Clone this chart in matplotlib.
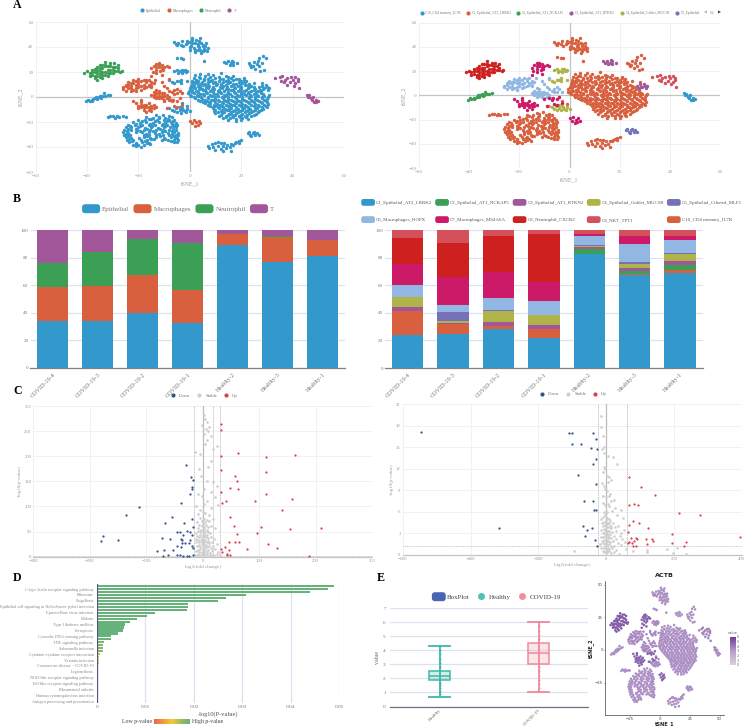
import numpy as np
import matplotlib
matplotlib.use("Agg")
import matplotlib.pyplot as plt
from matplotlib.lines import Line2D
from matplotlib.patches import Patch, FancyBboxPatch
from matplotlib.legend_handler import HandlerPatch
from matplotlib.colors import LinearSegmentedColormap, LogNorm, Normalize, to_rgba
from matplotlib.cm import ScalarMappable

plt.rcParams['font.family'] = 'Liberation Serif'
W, H = 753, 726

# ------------------ tSNE embedding (x, y pairs) ------------------
c1_main = [2,17.3, 6,16.6, 9,17.5, 14,17, 17,16.5,
 1.5,15, 4,15.6, 7,14.7, 10,15.3, 13,14.8, 16,15.4, 19,14.6,
 1,13, 3.2,12.6, 5.5,13.4, 8,12.8, 11.4,13.2, 14,12.6, 17,13.3, 20,12.8, 22,13.2,
 .8,11, 2.7,11.4, 6,10.7, 9,11.2, 12,10.8, 15,11.3, 18,10.7, 20.5,11.2, 23,10.8,
 .5,9, 3.3,8.6, 5,9.4, 7.6,8.8, 10.3,9.3, 13,8.7, 16,9.2, 18.8,8.7, 21.5,9.3, 24,8.8,
 0,7, 2,7.4, 4.7,6.7, 7,7.2, 9.5,6.8, 12.5,7.3, 15,6.7, 17.5,7.2, 20,6.8, 22.8,7.3, 25.5,6.8,
 -.5,5, 2.5,4.7, 5,5.3, 8,4.8, 10.8,5.2, 13.2,4.7, 16.2,5.3, 18.7,4.8, 21.2,5.2, 24,4.7, 26.5,5.1,
 -.7,3, 1.5,3.3, 4,2.7, 6.5,3.2, 9.5,2.8, 12,3.3, 14.5,2.7, 17.5,3.2, 20,2.8, 22.5,3.2, 25,2.8, 27.8,3.1,
 .5,1, 3,.7, 5.5,1.3, 8.5,.8, 11,1.2, 13.8,.7, 16.3,1.2, 19,.8, 21.8,1.3, 24,.7, 26.7,1.1, 29,.8,
 2,-1, 4.6,-1.3, 7,-.7, 10,-1.2, 12.8,-.8, 15,-1.3, 18,-.8, 20.3,-1.2, 23,-.7, 25.5,-1.3, 28,-.9, 30,-1.2,
 4,-3, 6.5,-3.3, 9,-2.7, 11.5,-3.2, 14,-2.8, 16.7,-3.3, 19,-2.8, 21.7,-3.2, 24.3,-2.8, 26.8,-3.2, 29.5,-2.9,
 6,-5, 8,-4.7, 10.5,-5.3, 13,-4.8, 15.5,-5.2, 18,-4.7, 20.5,-5.3, 23,-4.8, 25.5,-5.2, 28,-4.7, 30.5,-5.2,
 8,-7, 10,-7.3, 12.5,-6.8, 15,-7.2, 17.3,-6.7, 19.8,-7.3, 22,-6.8, 24.8,-7.2, 27,-6.8, 29.5,-7.2,
 9,-9, 11.5,-8.7, 13.7,-9.3, 16.2,-8.8, 18.7,-9.2, 21,-8.7, 23.5,-9.3, 26,-8.8, 28.6,-9.2,
 9.5,-11, 12,-11.3, 14.5,-10.7, 17,-11.2, 19.5,-10.8, 22,-11.3, 24.5,-10.8, 27,-11.2,
 10,-13, 12.5,-12.7, 15.3,-13.3, 18,-12.8, 20.5,-13.2, 23,-12.7, 25.6,-13.2,
 11.5,-15, 14,-15.3, 16.5,-14.7, 19,-15.2, 21.5,-14.8, 24,-15.2,
 13,-17, 15.5,-16.7, 18,-17.3, 20.5,-16.8, 22.5,-17.2, 15,-18.5, 18,-18.8, 20,-18.4,
 4,18.2, 21,15, 25,11.5, 31,1.5, 12,19, 28,11, 7,18.5, -3,-5, -1,-7,
 3.5,16, 8,16.2, 11.5,16, 15,16.2, 2.5,14, 5.5,14.3, 8.7,14, 11.8,14.2, 14.7,14, 18,14.3, 21,14,
 2,12, 4.6,12, 7.2,12.2, 10,12, 13,12.2, 15.7,12, 19,12.2, 21.5,12, 1.8,10, 4,10.2, 7,10, 10.7,10.2, 14,10, 17,10.2, 19.7,10, 22.5,10,
 1.3,8, 4,8, 6.2,8.2, 9,8, 11.7,8.2, 14.5,8, 17.2,8.2, 20,8, 23,8.1, 25,8, 1,6, 3.5,6.1, 6,6, 8.7,6.1, 11.3,6, 14,6.1, 17,6, 19.5,6.1, 22,6, 24.8,6,
 .7,4, 3.2,4, 6.2,4.1, 9,4, 11.8,4.1, 14.7,4, 17.2,4.1, 20,4, 23,4.1, 25.7,4, 27.8,4.6, .2,2, 2.7,2, 5.2,2.1, 8,2, 10.5,2.1, 13.2,2, 15.7,2.1, 18.4,2, 21,2.1, 23.5,2, 26,2, 28.5,2.1,
 1.6,0, 4.2,.1, 7,0, 9.7,.1, 12.4,0, 15,.1, 17.7,0, 20.4,.1, 23,0, 25.5,.1, 28,0, 30.3,.1,
 3.2,-2, 5.8,-2.1, 8.3,-2, 10.9,-2.1, 13.5,-2, 16,-2.1, 18.5,-2, 21,-2.1, 23.7,-2, 26.3,-2.1, 29,-2,
 5,-4, 7.5,-4.1, 10,-4, 12.5,-4.1, 15,-4, 17.7,-4.1, 20,-4, 22.6,-4.1, 25,-4, 27.7,-4.1, 30,-4,
 7,-6, 9.3,-6, 11.8,-6.1, 14.2,-6, 16.6,-6.1, 19,-6, 21.4,-6.1, 24,-6, 26.4,-6, 29,-6.1,
 9,-8, 11,-8, 13,-8.1, 15.3,-8, 17.8,-8.1, 20.3,-8, 22.7,-8, 25.4,-8, 28,-8.1, 30,-8,
 10,-10, 12.7,-10, 15.1,-10.1, 17.7,-10, 20.2,-10, 22.8,-10, 25.2,-10, 27.7,-10,
 10.8,-12, 13.4,-12, 16.2,-12, 18.8,-12, 21.3,-12, 24,-12, 26.5,-12, 12.3,-14, 15,-14, 17.6,-14, 20,-14, 22.4,-14, 25,-14,
 14.2,-16, 17,-16, 19.6,-16, 22,-16]
c1_low = [-13,-14.5, -10.5,-14, -8,-15,
 -17,-16, -14.5,-16.5, -12,-15.8, -9.5,-16.6, -7,-16.2,
 -20,-18, -17.5,-18.4, -15,-17.9, -12.7,-18.2, -10,-18.3, -8,-18, -6,-18.5,
 -22,-20, -19.5,-20.5, -17,-20, -14.5,-20.4, -12,-20, -9.7,-20.5, -7.5,-20, -5.5,-20.7,
 -24,-22, -21.3,-22.3, -18.5,-22, -16,-22.5, -13.5,-22, -11,-22.4, -8.7,-22, -6.3,-22.6, -5,-22,
 -25,-24, -22.7,-24.3, -20,-24, -17.5,-24.5, -15,-24, -12.5,-24.4, -10,-24, -7.6,-24.3, -5.5,-24,
 -25.5,-26, -23,-26.4, -20.5,-26, -18,-26.3, -15.5,-26, -13,-26.6, -10.5,-26, -8,-26.4, -5.3,-26,
 -26,-28, -24,-28.4, -21,-27.9, -18.5,-28.3, -16,-28, -13.5,-28.5, -11,-28, -8.5,-28.4, -6,-28, -4.7,-28.6,
 -25.5,-30, -23.4,-30.4, -18,-30, -15.7,-30.5, -13,-30, -10.5,-30.4, -8,-30, -5.5,-30.6, -4.4,-30,
 -25,-32, -23,-32.4, -18,-32, -15.5,-32.4, -13,-32, -10,-32.5, -7.5,-32, -5,-32.4,
 -24.5,-34, -22,-34.3, -19,-34, -16.8,-34.4, -14,-33.8, -11,-34, -8.5,-34.2, -6,-34, -4.5,-34.5,
 -23.5,-36, -21,-36.4, -18.5,-36, -16,-36.4, -6,-35.8, -4.8,-36,
 -22,-38, -20,-38.5, -17.8,-38, -15.5,-37.8, -21,-39.5, -19,-39.6,
 -12,-17, -16,-17.4, -8.5,-17.4, -18.7,-19.2, -13.5,-19.3, -8.7,-19.2, -6.5,-19.4, -21,-21.2, -15.5,-21.2, -10.5,-21.3, -6.8,-21.2,
 -23.3,-23.2, -19.5,-23.1, -14.7,-23.2, -9.7,-23.2, -6.4,-23.3, -24,-25.2, -21,-25.2, -16.5,-25.2, -11.5,-25.2, -6.5,-25.2,
 -24.6,-27.2, -19.5,-27.1, -14.5,-27.2, -9.8,-27.2, -6.8,-27.2, -24.7,-29.2, -17,-29.2, -12,-29.2, -7,-29.2,
 -24,-31.2, -16.7,-31.3, -11.7,-31.2, -6.2,-31.2, -23.5,-33.2, -19.6,-33, -15,-33.2, -9.5,-33.2, -5.8,-33,
 -22.5,-35.2, -17.5,-35.2, -7.5,-35, -20.8,-37.3, -16.8,-37.1]
c1_top = [-6,44, -4.5,43, -3,44.5, -1.5,42.5, 0,44, 1,47.5, 2.5,46, .5,41, 2,43.5, 3.5,45, 4.5,43, 6,41,
 7,39, 5.5,38.5, 3.5,40, 1.5,39.5, 3,37.5, 5,36.5, 2,36, 4.5,35, -2.5,41, -4.8,41.5, 0,38, 6.8,37,
 -5.5,42.3, 1,45.5, 3.3,42.2, 5,40.5, 6.2,43, -5,31.5, -3.5,31, -2.5,30.5, 5.5,28.5,
 -3.5,42, -1,45, 1,43, 3,41, 5,42, 2,38, 4,38, 0,40, -1,43, 4,47, 6,38]
c1_right = [23,27, 24.5,25, 25,28, 26,26.5, 27,24.5, 26.5,29, 24,24, 23.5,25.5, 28,27, 28.5,33, 27,31.5, 29.5,31,
 25.5,22.5, 27.5,21, 29,21.5]
c1_bot = [7,-39, 8.5,-37.5, 10,-36.5, 12,-37, 9,-40, 11,-39.5, 13,-39, 14.5,-38, 10,-42, 12,-41.5, 14,-41, 7.5,-41,
 11,-36, 13.5,-37, 15.5,-40, 16,-43, 13,-43.5, 16,-37.5, 17,-38, 18,-36, 19,-35, 20,-34, 17.5,-37, 19,-37,
 -32,-16, -30,-15.5, -28.5,-15, -27.5,-16, -26,-15.5, -29,-16.5, -31,-15, -25,-15.7]
c2 = [-40.5,-3.5, -39,-3, -38,-2, -37,-1, -36,-1.5, -35.5,0, -34,.5, -33,1, -32,1.5, -34.5,-.5, -38,-3.2, -36.5,0,
 -37.5,-1.9, -35,1, -33.5,3, -31,2, -36,-.7, -39.5,-2.4]
c3 = [14,27, 15,28.5, 16,27, 17,28, 15.5,26, 17,26, 13.5,28, 18.5,27, 16.5,29,
 27,8, 28,9, 29,7, 30,8, 28.5,6.5, 31,7.5, 27.5,6, 29.5,9.5, 30.5,6]
c4 = [-6,21, -5,22, -4,20.5, -3,21.5, -2,22, -1.5,20, -4.5,19.5, -3,19, -2.5,20.5, -1,21,
 -7,-10, -5.5,-9, -4,-10.5, -3,-9, -2,-11, -5,-12, -3.5,-12.5, -1.5,-12, -6,-11, -2.5,-10, -1,-9.5, 0,-11, -4,-8, -8,-9,
 -7,12, -6,11, -5,12.5, -4,13, -3.5,11.5, -8,13.5, -3.5,14, -1,13]
c5 = [22.5,-29, 23.5,-30, 24.5,-29, 25.5,-30.5, 24,-31, 26,-28.5, 23,-28, 25,-28, 27,-30]
c6 = [-26,8, -25,10, -24,7, -24,12, -23,9, -22,6, -22,11, -21,13, -20,8, -20,10.5, -19,12.5, -19,6, -18,14, -18,10,
 -17,12, -17,8, -16,14, -16,10, -15,12, -15,8, -14,11, -13.5,14, -26,6.5, -23,5, -21,4.5, -25,5, -20,14.5, -22,13.5,
 -15,2, -14,4, -14,0, -13,3, -13,-1, -12,1, -12,5, -11,3, -11,-1, -10,1, -10,-2, -9,2, -9,-1, -13,6, -8,0, -7.5,-2,
 -8,5, -7,4, -6,5.5, -5,3, -4,5, -3,3, -6,2.5, -5,6.5, -9,7, -10,9, -11,12, -8,14.5,
 -25,8.7, -23,11, -21,7, -21,10, -19,9, -18,7, -16,8.5, -24,10, -20,12, -17,13.5, -15,10, -23,7, -12,3, -13,1, -11,1, -10,3, -14,2, -12,-.5]
c7 = [-15,23, -14,25, -13,26.5, -12,24, -11,26, -10,24, -9,25, -13,22, -11.5,21, -14.5,20, -10.5,22, -12,27, -8,24,
 -13,19, -11,18, -15,17, -22,-3, -21,-5, -20,-7, -19,-4, -18,-6, -17,-8, -16,-5, -15,-7, -14,-9, -16,-10, -18,-10,
 -20,-9, -15,-11, -17,-12, -14,-6, -13,-8, -19,-2.5, 0,-19, 1,-21, 1.5,-18, 2.5,-20, 3.5,-19, 3,-22, 2,-23, 4,-21,
 -10,-3, -8,-2.5, -6.5,-2, -5,-3, -7,-3.5, -4,-1, -6,-7, -5,-8, -9,-9, -3,-6,
 -12,25.5, -13,24, -11,23.5, -19,-6, -17,-6, -16,-8, -18,-8, -15,-9, -19,-8]
c8 = [-41,19, -39,17, -40,20.5, -38,22, -38,18, -37,15, -37,20, -36,24, -36,17, -35,21, -35,26, -34,18, -34,23, -33,28,
 -33,20, -32,25, -32,16.5, -31,22, -31,27, -30,19, -30,24, -29,21, -28,23, -28,26, -36,14, -27,20, -26.5,21, -34,15,
 -38,20, -36,22, -33,24.5, -32,19, -35,18.5, -29.5,27,
 -39,19, -37,17, -35,23, -34,20, -33,18, -32,22, -31,25, -30,21.5, -29,24, -35,16, -37,22.5, -36,19.5, -33,26, -31,19.5, -34,25.5, -28,21]
c9 = [35,16, 36,17, 35.5,13, 36.5,12, 37,14, 38,10, 38,15, 39,12, 39.5,16, 40,14, 40.5,9, 41,11, 42,13, 41,16, 42,14.5,
 33,15, 42.5,7]
c10 = [45.5,2, 46,0, 46.5,1.5, 47,-1, 47.5,-2.5, 48,0, 48.5,-4, 49,-2, 49,-4, 47,-.5, 50,-3]

broad_types = ['Epithelial', 'Macrophages', 'Neutrophil', 'T']
broad_points = {'Epithelial': c1_main + c1_low + c1_top + c1_right + c1_bot + c2 + c3 + c4 + c5,
                'Macrophages': c6 + c7, 'Neutrophil': c8, 'T': c9 + c10}
sub_types = ['C10_CD4 memory_IL7R', 'C1_Epithelial_AT2_LRRK2', 'C2_Epithelial_AT1_NCKAP5', 'C3_Epithelial_AT1_RTKN2',
             'C4_Epithelial_Goblet_MUC5B', 'C5_Epithelial', 'C6', 'C7', 'C8', 'C9']
sub_points = [c10, c1_main + c1_low + c1_top + c1_right + c1_bot, c2, c3, c4, c5, c6, c7, c8, c9]
actb_level = [3.6, 3.4, 3.4, 3.2, 3.6, 3.4, 3.6, 4.8, 5.0, 3.8]

# ------------------ composition bars ------------------
samples = ['COVID-19-4', 'COVID-19-3', 'COVID-19-2', 'COVID-19-1', 'Healthy-2', 'Healthy-3', 'Healthy-1']
epithelial = [34, 34, 39.5, 32.2, 88.9, 76.8, 80.9]
macrophages = [24.4, 25.3, 27.8, 24, 8.5, 17.9, 12.1]
neutrophil = [17.9, 24.7, 26.2, 34.4, 0, 1, 0]
t_cells = [23.7, 16, 6.5, 9.4, 2.6, 4.3, 7]

cluster_names = ['C1_Epithelial_AT2_LRRK2', 'C10_CD4 memory_IL7R', 'C2_Epithelial_AT1_NCKAP5', 'C3_Epithelial_AT1_RTKN2',
                 'C4_Epithelial_Goblet_MUC5B', 'C5_Epithelial_Ciliated_MLF1', 'C6_Macrophages_HOPX',
                 'C7_Macrophages_MS4A6A', 'C8_Neutrophil_CXCR2', 'C9_NKT_TPT1']
cluster_share = [
    [23.6, 24.8, 28.2, 21.9, 82.4, 67.7, 68.7],
    [17.4, 6.8, 2.4, 6.3, 0, .2, 2.6],
    [0, .1, 0, 0, 3.6, 2.2, 3.2],
    [3.3, .8, 2.9, 3.1, 1.5, 2.4, 3.1],
    [7.3, 1.7, 7.7, 7, 1.2, 2.9, 5.3],
    [.2, 6.5, 1, .3, .5, 1.5, .7],
    [8.4, 4.8, 8.4, 10.3, 6.7, 13, 9.4],
    [15.5, 20.3, 19, 13.5, 1.2, 5.5, 2.7],
    [18.3, 25, 26.3, 34.7, .2, 0, 0],
    [6, 9.2, 4.1, 2.9, 2.9, 4.6, 4.3],
]

# ------------------ volcano, left ------------------
volcL_down = [-30,182, -20,159, -17,152, -18,138, -18,134, -22,125, -38,107, -113,99, -136,83, -54,80, -18,76, -67,68,
 -33,67, -17,59, -177,42, -180,31, -150,34, -28,52, -46,50, -40,50, -23,50, -18,43, -35,43, -72,38, -57,35, -38,36,
 -37,33, -22,33, -31,28, -36,27, -24,27, -46,21, -19,22, -52,13, -38,20, -17,18, -68,13, -80,11, -62,3, -70,1, -46,3,
 -40,3, -35,2, -28,2, -24,2, -17,3]
volcL_up = [33,264, 32,253, 63,206, 32,200, 113,198, 164,203, 33,173, 113,169, 58,161, 60,150, 49,137, 63,134, 32,129,
 112,125, 35,107, 42,111, 92,111, 159,115, 141,93, 48,80, 56,61, 103,60, 210,57, 154,55, 97,48, 61,45, 46,30, 57,30,
 65,29, 116,25, 39,19, 131,17, 78,15, 46,14, 32,15, 35,10, 43,6, 43,3, 49,3, 189,2]
volcL_stable = [3,283, 5,275, 8,268, 6,255, 10,250, 2,245, 12,258, -1,262, 4,225, 15,240, -5,205, -14,208, 7,232, 18,215,
 26,220, 14,190, 9,178, -6,175, -3,160, 8,150, 18,148, 25,140, 3,135, 14,128, -8,125, -2,120, 22,118, 8,110, 28,102,
 -12,100, 3,104, 15,96, -5,92, -8,85, 0,88, 5,86, 12,84, -5,78, 2,76, 8,74, -2,72, 4,70, 12,72, -10,70, 18,76,
 -6,64, -2,62, 1,66, 3,60, 6,64, 9,60, -9,58, 15,62, 22,58, -8,52, -5,50, -3,54, 0,52, 2,56, 4,50, 7,53, 10,50, 13,48,
 -11,48, -10,42, -7,40, -4,44, -2,40, 0,46, 2,42, 4,44, 6,40, 8,43, 10,38, 14,40, -12,36, -11,30, -8,33, -6,30, -3,34,
 -1,30, 1,36, 3,30, 5,34, 7,30, 9,32, 12,28, 16,30, 20,35, -10,22, -7,24, -5,20, -2,25, 0,20, 2,26, 4,20, 6,24, 8,20,
 11,22, 14,18, 18,22, 26,25, -12,12, -9,14, -6,10, -4,15, -1,10, 1,16, 3,10, 5,14, 7,10, 10,14, 13,8, 17,12, 22,15,
 28,10, -14,4, -10,3, -7,6, -4,2, -2,6, 0,2, 2,6, 5,3, 8,6, 11,2, 15,4, 20,3, 25,5, 30,4]

# ------------------ volcano, right ------------------
volcR_down = [-545,17.1, -110,17, -102,16.9, -39,16.9, -30,16.1, -102,15.5, -75,15.5, -45,14.9, -28,14.8, -31,13.3,
 -39,12.6, -82,11.1, -29,9.9, -66,7.5, -39,7.5, -35,6.2, -30,6.3, -317,3.7, -68,4, -42,3.7, -55,3.5, -61,2.7, -33,2.1, -27,1.3]
volcR_up = [67,10.8, 103,9.4, 144,8.4, 69,6.9, 82,7.1, 93,6.9, 215,5.8, 276,5.6, 78,4.7, 98,4.5, 67,4.2, 125,3.7, 66,3.2,
 193,2.9, 394,2.5, 72,2.3, 89,2.3, 92,2.2, 117,2.2, 136,2.2, 137,2, 81,1.9, 235,1.8, 194,1.65, 65,1.65, 69,1.8, 75,1.65,
 120,1.5, 230,1.3, 79,1.3, 87,1.2]
volcR_stable = [-14,19.4, -14,17.8, -10,16.6, -5,15, -12,14.8, -6,14.2, 5,13.7, 19,13.6, 31,12.6, -5,12.3, -2,11.9, -8,11.5,
 2,11, 10,10.8, 15,10.4, -12,10, 5,10.2, -5,9.6, -2,9.2, 2,8.9, 8,8.2, 12,8.5, -10,8.2, 0,8, 14,7.5, 22,7.7, 6,7.1, -8,7.2,
 -3,6.9, 10,6.8, 25,6.6, 43,6.2, 4,6, -6,6, 17,6.1, 33,5.5, 50,5.1, 52,3.5, 45,3.1, 36,4.1, -15,5, -8,5.3, -3,5.5, 0,5.8,
 3,5.2, 8,5, 12,4.7, -12,4.5, -6,4.6, -1,4.9, 2,4.4, 6,4.5, 10,4.3, 15,4.1, 20,4.4, -9,4, -4,4.2, 0,4.1, 4,3.9, 8,3.9, 13,3.7,
 25,3.9, -14,3.5, -6,3.6, -2,3.5, 2,3.4, 6,3.3, 10,3.4, 18,3.2, 30,3.3, -10,3, -5,3, 0,3.1, 3,2.9, 7,2.8, 12,2.9, 22,2.7,
 40,2.6, -16,2.5, -8,2.5, -3,2.6, 1,2.5, 5,2.4, 9,2.5, 15,2.3, 28,2.2, 48,2.2, -12,2, -6,2.1, -1,2, 3,1.9, 7,2, 11,1.8, 19,1.9,
 34,1.7, 55,1.8, -18,1.5, -9,1.6, -4,1.5, 0,1.6, 4,1.4, 8,1.5, 14,1.3, 24,1.2, 44,1.4, -14,1, -6,1, -2,1.1, 2,.9, 6,1, 10,.8,
 17,1, 30,.7, 60,.9, -10,.5, -5,.4, 0,.6, 4,.4, 8,.5, 13,.3, 22,.4, 38,.2, -95,.6, 122,.4, 180,.9, 210,1, 235,.1, 198,.3, 120,.7, 80,.6]

# ------------------ enrichment ------------------
pathway_values = [.0489, .0477, .044, .0308, .0267, .025, .0188, .0188, .0186, .0119, .0104, .0082, .0069, .0057, .0056,
                  .0054, .0044, .0028, .0028, .0014, .0013, .0013, .0012, .0006, .0004, .0004, .0004, .0002, .0002, .0002,
                  .0002, .0001, .0001, .0001, .0001, .0001, .0001, .0001, .0001, .0001]
pathway_labels = ['C-type lectin receptor signaling pathway', 'Ribosome', 'Shigellosis',
                  'Epithelial cell signaling in Helicobacter pylori infection', 'Epstein-Barr virus infection', 'Malaria',
                  'Type I diabetes mellitus', 'Ferroptosis', 'Cytosolic DNA-sensing pathway', 'TNF signaling pathway',
                  'Salmonella infection', 'Cytokine-cytokine receptor interaction', 'Yersinia infection',
                  'Coronavirus disease - COVID-19', 'Legionellosis', 'NOD-like receptor signaling pathway',
                  'Toll-like receptor signaling pathway', 'Rheumatoid arthritis', 'Human cytomegalovirus infection',
                  'Antigen processing and presentation']

# ------------------ box plot ------------------
box_groups = ['Healthy', 'COVID-19']
box_low = [.65, 1.05]
box_q1 = [1.9, 3.05]
box_med = [2.2, 3.8]
box_q3 = [2.55, 4.5]
box_high = [4.3, 6]
box_points = [[.9, 1.1, 1.3, 1.5, 1.7, 2.8, 3.1, 3.4, 3.7, 4], [1.3, 1.6, 1.9, 2.2, 2.5, 2.8, 4.8, 5.1, 5.4, 5.7]]

# ------------------ style ------------------
BLUE, ORANGE, GREEN, PURPLE = '#3398CC', '#D9603F', '#3BA055', '#A3579B'
OLIVE, INDIGO, LBLUE, MAGENTA, RED, CORAL = '#B0B347', '#7672B8', '#93B7E3', '#CC1A68', '#CF2020', '#D4505A'
broad_colors = [BLUE, ORANGE, GREEN, PURPLE]
sub_colors = [BLUE, ORANGE, GREEN, PURPLE, OLIVE, INDIGO, LBLUE, MAGENTA, RED, CORAL]
bar_colors = [BLUE, ORANGE, GREEN, PURPLE, OLIVE, INDIGO, LBLUE, MAGENTA, RED, CORAL]
DOWN, STABLE, UP = '#2F5487', '#CFCFCF', '#DA4250'
TICK = '#9A9A9A'
GRID = '#EDEFF5'

fig = plt.figure(figsize=(W / 100, H / 100), dpi=100)


def ax_px(l, t, r, b):
    return fig.add_axes([l / W, 1 - b / H, (r - l) / W, (b - t) / H])


def xy(values):
    return np.array(values, dtype=float).reshape(-1, 2)


def clean(ax, tick=3.6):
    for s in ax.spines.values():
        s.set_visible(False)
    ax.tick_params(length=0, labelsize=tick, labelcolor=TICK, pad=1.5)
    ax.set_axisbelow(True)


def fig_legend(handles, labels, cx, cy, size, **kw):
    opts = dict(loc='center', frameon=False, handletextpad=.3, columnspacing=.9, borderpad=0, borderaxespad=0,
                labelcolor=kw.pop('labelcolor', '#777777'), fontsize=size)
    opts.update(kw)
    return fig.legend(handles, labels, bbox_to_anchor=(cx / W, 1 - cy / H), **opts)


def dot(c, ms=3.0):
    return Line2D([], [], ls='', marker='o', color=c, ms=ms, mew=0)


def rounded(legend, orig_handle, xdescent, ydescent, width, height, fontsize):
    return FancyBboxPatch((-xdescent, -ydescent), width, height,
                          boxstyle=f"round,pad=0,rounding_size={height * .3}")


ROUND = {Patch: HandlerPatch(patch_func=rounded)}


def tsne_axes(box):
    ax = ax_px(*box)
    clean(ax)
    ax.set_xlim(-60, 60)
    ax.set_ylim(-60, 60)
    ax.set_xticks(range(-60, 61, 20))
    ax.set_yticks(range(-60, 61, 20))
    ax.grid(color=GRID, lw=.6)
    ax.axhline(0, color='#C4C4C4', lw=.9, zorder=1)
    ax.axvline(0, color='#C4C4C4', lw=.9, zorder=1)
    ax.set_xlabel('tSNE_1', fontsize=4.2, color=TICK, labelpad=2.5)
    ax.set_ylabel('tSNE_2', fontsize=4.2, color=TICK, labelpad=1.5)
    return ax


# ---- A
axA1 = tsne_axes((35.6, 22, 344, 172))
for name, col in zip(broad_types, broad_colors):
    p = xy(broad_points[name])
    axA1.scatter(p[:, 0], p[:, 1], s=6, color=col, lw=0, zorder=3)
fig_legend([dot(c) for c in broad_colors], ['Epithelial', 'Macrophages', 'Neutrophil', 'T'], 187, 10.7, 2.8, ncol=4,
           handletextpad=.1)

axA2 = tsne_axes((418.7, 22.7, 720.3, 168))
for pts, col in zip(sub_points, sub_colors):
    p = xy(pts)
    axA2.scatter(p[:, 0], p[:, 1], s=6, color=col, lw=0, zorder=3)
fig_legend([dot(c) for c in sub_colors[:6]], sub_types[:6], 559, 13, 2.55, ncol=6, columnspacing=.9, handletextpad=.1)
fig.text(712 / W, 1 - 13 / H, '1/2', fontsize=2.6, color='#777777', ha='center', va='center')
fig.text(705 / W, 1 - 13 / H, '\u25c0', fontsize=2.6, color='#AAAAAA', ha='center', va='center', family='DejaVu Sans')
fig.text(719 / W, 1 - 13 / H, '\u25b6', fontsize=2.8, color='#2F4050', ha='center', va='center', family='DejaVu Sans')

# ---- B


def stacked(box, series, colors):
    ax = ax_px(*box)
    clean(ax, 4)
    xs = np.arange(len(samples))
    bottom = np.zeros(len(samples))
    for vals, col in zip(series, colors):
        ax.bar(xs, vals, .69, bottom=bottom, color=col, lw=0, zorder=3)
        bottom += np.array(vals)
    ax.set_xlim(-.5, 6.5)
    ax.set_ylim(0, 100)
    ax.set_yticks(range(0, 101, 20))
    ax.yaxis.grid(True, color='#DDE2F0', lw=.9)
    ax.spines['bottom'].set_visible(True)
    ax.spines['bottom'].set_color('#808080')
    ax.spines['bottom'].set_linewidth(.9)
    ax.set_xticks(xs)
    ax.set_xticklabels(samples, rotation=45, ha='right', rotation_mode='anchor', fontsize=4.4, color='#777777')
    ax.tick_params(axis='y', labelcolor='#777777', labelsize=3.6)
    ax.tick_params(axis='x', length=0, pad=3)
    return ax


axB1 = stacked((30.5, 230, 345, 367.7), [epithelial, macrophages, neutrophil, t_cells], broad_colors)
fig_legend([Patch(color=c) for c in broad_colors], broad_types, 178.5, 208.7, 5.0, ncol=4, handler_map=ROUND,
           handlelength=2.4, handleheight=1.3, columnspacing=.7, handletextpad=.4)

axB2 = stacked((385, 230, 702.7, 368), cluster_share, bar_colors)
order = [0, 2, 3, 4, 5, 6, 7, 8, 9, 1]
leg_h = [Patch(color=bar_colors[i]) for i in order]
leg_l = [cluster_names[i] for i in order]
paired_h = [h for pair in zip(leg_h[:5], leg_h[5:]) for h in pair]
paired_l = [h for pair in zip(leg_l[:5], leg_l[5:]) for h in pair]
fig_legend(paired_h, paired_l, 552, 211, 3.55, ncol=5, handler_map=ROUND, handlelength=2.5, handleheight=1.3,
           columnspacing=.7, handletextpad=.4, labelspacing=2.4, labelcolor='#555555')

# ---- C


def volcano(box, down, stable, up, xlim, xstep, ylim, ystep, thresholds, hline, msize):
    ax = ax_px(*box)
    clean(ax, 3.4)
    ax.set_xlim(*xlim)
    ax.set_ylim(*ylim)
    ax.set_xticks(np.arange(xlim[0], xlim[1] + 1, xstep))
    ax.set_yticks(np.arange(ylim[0], ylim[1] + .01, ystep))
    ax.grid(color=GRID, lw=.6)
    for v in thresholds:
        ax.axvline(v, color='#BDBDBD', lw=.6, ls=(0, (1.5, .8)), zorder=2)
    ax.axvline(0, color='#BDBDBD', lw=.9, zorder=2)
    ax.axhline(hline, color='#C8C8C8', lw=.7, ls=(0, (1, .8)), zorder=2)
    ax.spines['bottom'].set_visible(True)
    ax.spines['bottom'].set_color('#C4C4C4')
    ax.spines['bottom'].set_linewidth(.9)
    p = xy(stable)
    ax.scatter(p[:, 0], p[:, 1], s=msize * 1.4, color=STABLE, lw=0, zorder=3)
    p = xy(down)
    ax.scatter(p[:, 0], p[:, 1], s=msize, color=DOWN, lw=0, zorder=4)
    p = xy(up)
    ax.scatter(p[:, 0], p[:, 1], s=msize, color=UP, lw=0, zorder=4)
    ax.set_xlabel('log2(fold change)', fontsize=3.6, color=TICK, labelpad=1.5)
    ax.set_ylabel('-log10(p-value)', fontsize=3.6, color=TICK, labelpad=1.5)
    return ax


axC1 = volcano((33.3, 406, 372, 556.7), volcL_down, volcL_stable, volcL_up, (-300, 300), 100, (0, 300), 50,
               (-16, 18, 30), 1.3, 2.6)
axC2 = volcano((402.7, 404, 741.7, 555), volcR_down, volcR_stable, volcR_up, (-600, 400), 200, (0, 21), 3,
               (-24, 62), 1.3, 2.6)
fig_legend([dot(DOWN), dot(STABLE), dot(UP)], ['Down', 'Stable', 'Up'], 203, 395.7, 3.4, ncol=3)
fig_legend([dot(DOWN), dot(STABLE), dot(UP)], ['Down', 'Stable', 'Up'], 572, 394, 3.4, ncol=3)

# ---- D
axD = ax_px(97, 584, 339.3, 703)
clean(axD, 3.6)
bar_cmap = LinearSegmentedColormap.from_list('p', ['#E8605A', '#EE9A3A', '#F5C93A', '#9DB95F', '#66B27A'])
rows = np.arange(len(pathway_values))
norm = LogNorm(vmin=1e-4, vmax=2e-3, clip=True)
axD.barh(rows, pathway_values, .72, color=bar_cmap(norm(pathway_values)), lw=0, zorder=3)
axD.set_ylim(len(rows) - .5, -.7)
axD.set_xlim(0, .05)
axD.set_xticks([0, .01, .02, .03, .04, .05])
axD.set_xticklabels(['0', '0.01', '0.02', '0.03', '0.04', '0.05'], fontsize=3.8, color='#777777')
axD.xaxis.grid(True, color='#DDE2F0', lw=.9)
axD.set_yticks(rows[1::2])
axD.set_yticklabels(pathway_labels, fontsize=3.05, color='#888888')
axD.tick_params(axis='y', pad=2.5)
axD.axvline(0, color='#555577', lw=.9, zorder=4)
axD.set_xlabel('-log10(P-value)', fontsize=4.6, color='#555555', labelpad=1.5)
caxD = ax_px(154, 719, 190, 724)
cb = fig.colorbar(ScalarMappable(Normalize(0, 1), bar_cmap), cax=caxD, orientation='horizontal')
cb.set_ticks([])
cb.outline.set_visible(False)
fig.text(152.5 / W, 1 - 721.5 / H, 'Low p-value', fontsize=4.2, color='#444444', ha='right', va='center')
fig.text(192 / W, 1 - 721.5 / H, 'High p-value', fontsize=4.2, color='#444444', ha='left', va='center')

# ---- E box
axE = ax_px(390, 608, 588, 706.5)
clean(axE, 3.8)
axE.set_ylim(0, 7)
axE.set_xlim(0, 2)
axE.yaxis.grid(True, color='#DDE2F0', lw=.9)
axE.set_yticks(range(0, 8))
axE.tick_params(axis='y', labelcolor='#777777', pad=3)
axE.spines['bottom'].set_visible(True)
axE.spines['bottom'].set_color('#707080')
axE.spines['bottom'].set_linewidth(.9)
box_cols = ['#3DB8A8', '#F08A9A']
for i, col in enumerate(box_cols):
    stats = [dict(med=box_med[i], q1=box_q1[i], q3=box_q3[i], whislo=box_low[i], whishi=box_high[i], fliers=box_points[i])]
    axE.bxp(stats, positions=[i + .5], widths=.22, patch_artist=True, manage_ticks=False,
            boxprops=dict(facecolor=to_rgba(col, .22), edgecolor=col, lw=1.1),
            medianprops=dict(color=col, lw=1.1), whiskerprops=dict(color=col, lw=1.3),
            capprops=dict(color=col, lw=1.3), capwidths=.21,
            flierprops=dict(marker='o', ms=1.4, mfc=col, mec=col, mew=0), zorder=3)
    axE.plot([i + .5, i + .5], [box_q1[i], box_q3[i]], color=col, lw=1.3, zorder=4)
axE.set_xticks([.5, 1.5])
axE.set_xticklabels(box_groups, rotation=45, ha='right', rotation_mode='anchor', fontsize=3.5, color='#666666')
axE.tick_params(axis='x', length=0, pad=1.2)
axE.set_ylabel('value', fontsize=4.2, color='#666666', labelpad=2)
fig_legend([Patch(color='#4A66B2'), dot('#4DC2B2', 5), dot('#F58D9C', 5)], ['BoxPlot', 'Healthy', 'COVID-19'],
           497, 596.7, 5.0, ncol=3, handler_map=ROUND, handlelength=1.8, handleheight=1.3,
           columnspacing=.8, handletextpad=.2, labelcolor='#444444')

# ---- E ACTB feature plot
axF = ax_px(605, 581, 724, 715)
actb_cmap = LinearSegmentedColormap.from_list('actb', ['#D6D4DA', '#B79CCB', '#6A3D9A'])
for pts, level in zip(sub_points, actb_level):
    p = xy(pts)
    axF.scatter(p[:, 0], p[:, 1], s=3.4, c=np.full(len(p), level), cmap=actb_cmap, vmin=0, vmax=6, lw=0)
axF.set_xlim(-45.6, 53.6)
axF.set_ylim(-49.7, 52.7)
axF.set_xticks([-25, 0, 25, 50])
axF.set_yticks([-25, 0, 25, 50])
for s in ('top', 'right'):
    axF.spines[s].set_visible(False)
for s in ('left', 'bottom'):
    axF.spines[s].set_color('#444444')
    axF.spines[s].set_linewidth(.5)
axF.tick_params(length=1, width=.4, labelsize=2.8, labelcolor='#444444', pad=.6, color='#444444')
for t in axF.get_xticklabels() + axF.get_yticklabels():
    t.set_family('DejaVu Sans')
axF.set_xlabel('tSNE_1', fontsize=3.6, fontweight='bold', family='DejaVu Sans', color='#222222', labelpad=.2)
axF.set_ylabel('tSNE_2', fontsize=3.6, fontweight='bold', family='DejaVu Sans', color='#222222', labelpad=.5)
fig.text(664.5 / W, 1 - 575.5 / H, 'ACTB', fontsize=4.6, fontweight='bold', family='DejaVu Sans', color='#222222',
         ha='center', va='center')
caxF = ax_px(730, 637, 735.5, 665)
cbF = fig.colorbar(ScalarMappable(Normalize(0, 6), actb_cmap), cax=caxF)
cbF.set_ticks(range(0, 7))
cbF.outline.set_visible(False)
caxF.tick_params(length=0, labelsize=2.4, labelcolor='#666666', pad=.8)
for t in caxF.get_yticklabels():
    t.set_family('DejaVu Sans')
fig.text(733 / W, 1 - 632.5 / H, 'value', fontsize=2.6, color='#555555', ha='center', va='center', family='DejaVu Sans')

# ---- panel letters
for letter, x, y in [('A', 13, 5), ('B', 13, 199), ('C', 13, 391), ('D', 13, 578), ('E', 377, 578)]:
    fig.text(x / W, 1 - y / H, letter, fontsize=8.6, fontweight='bold', color='black', va='center')

fig.savefig('out.png', dpi=100)
